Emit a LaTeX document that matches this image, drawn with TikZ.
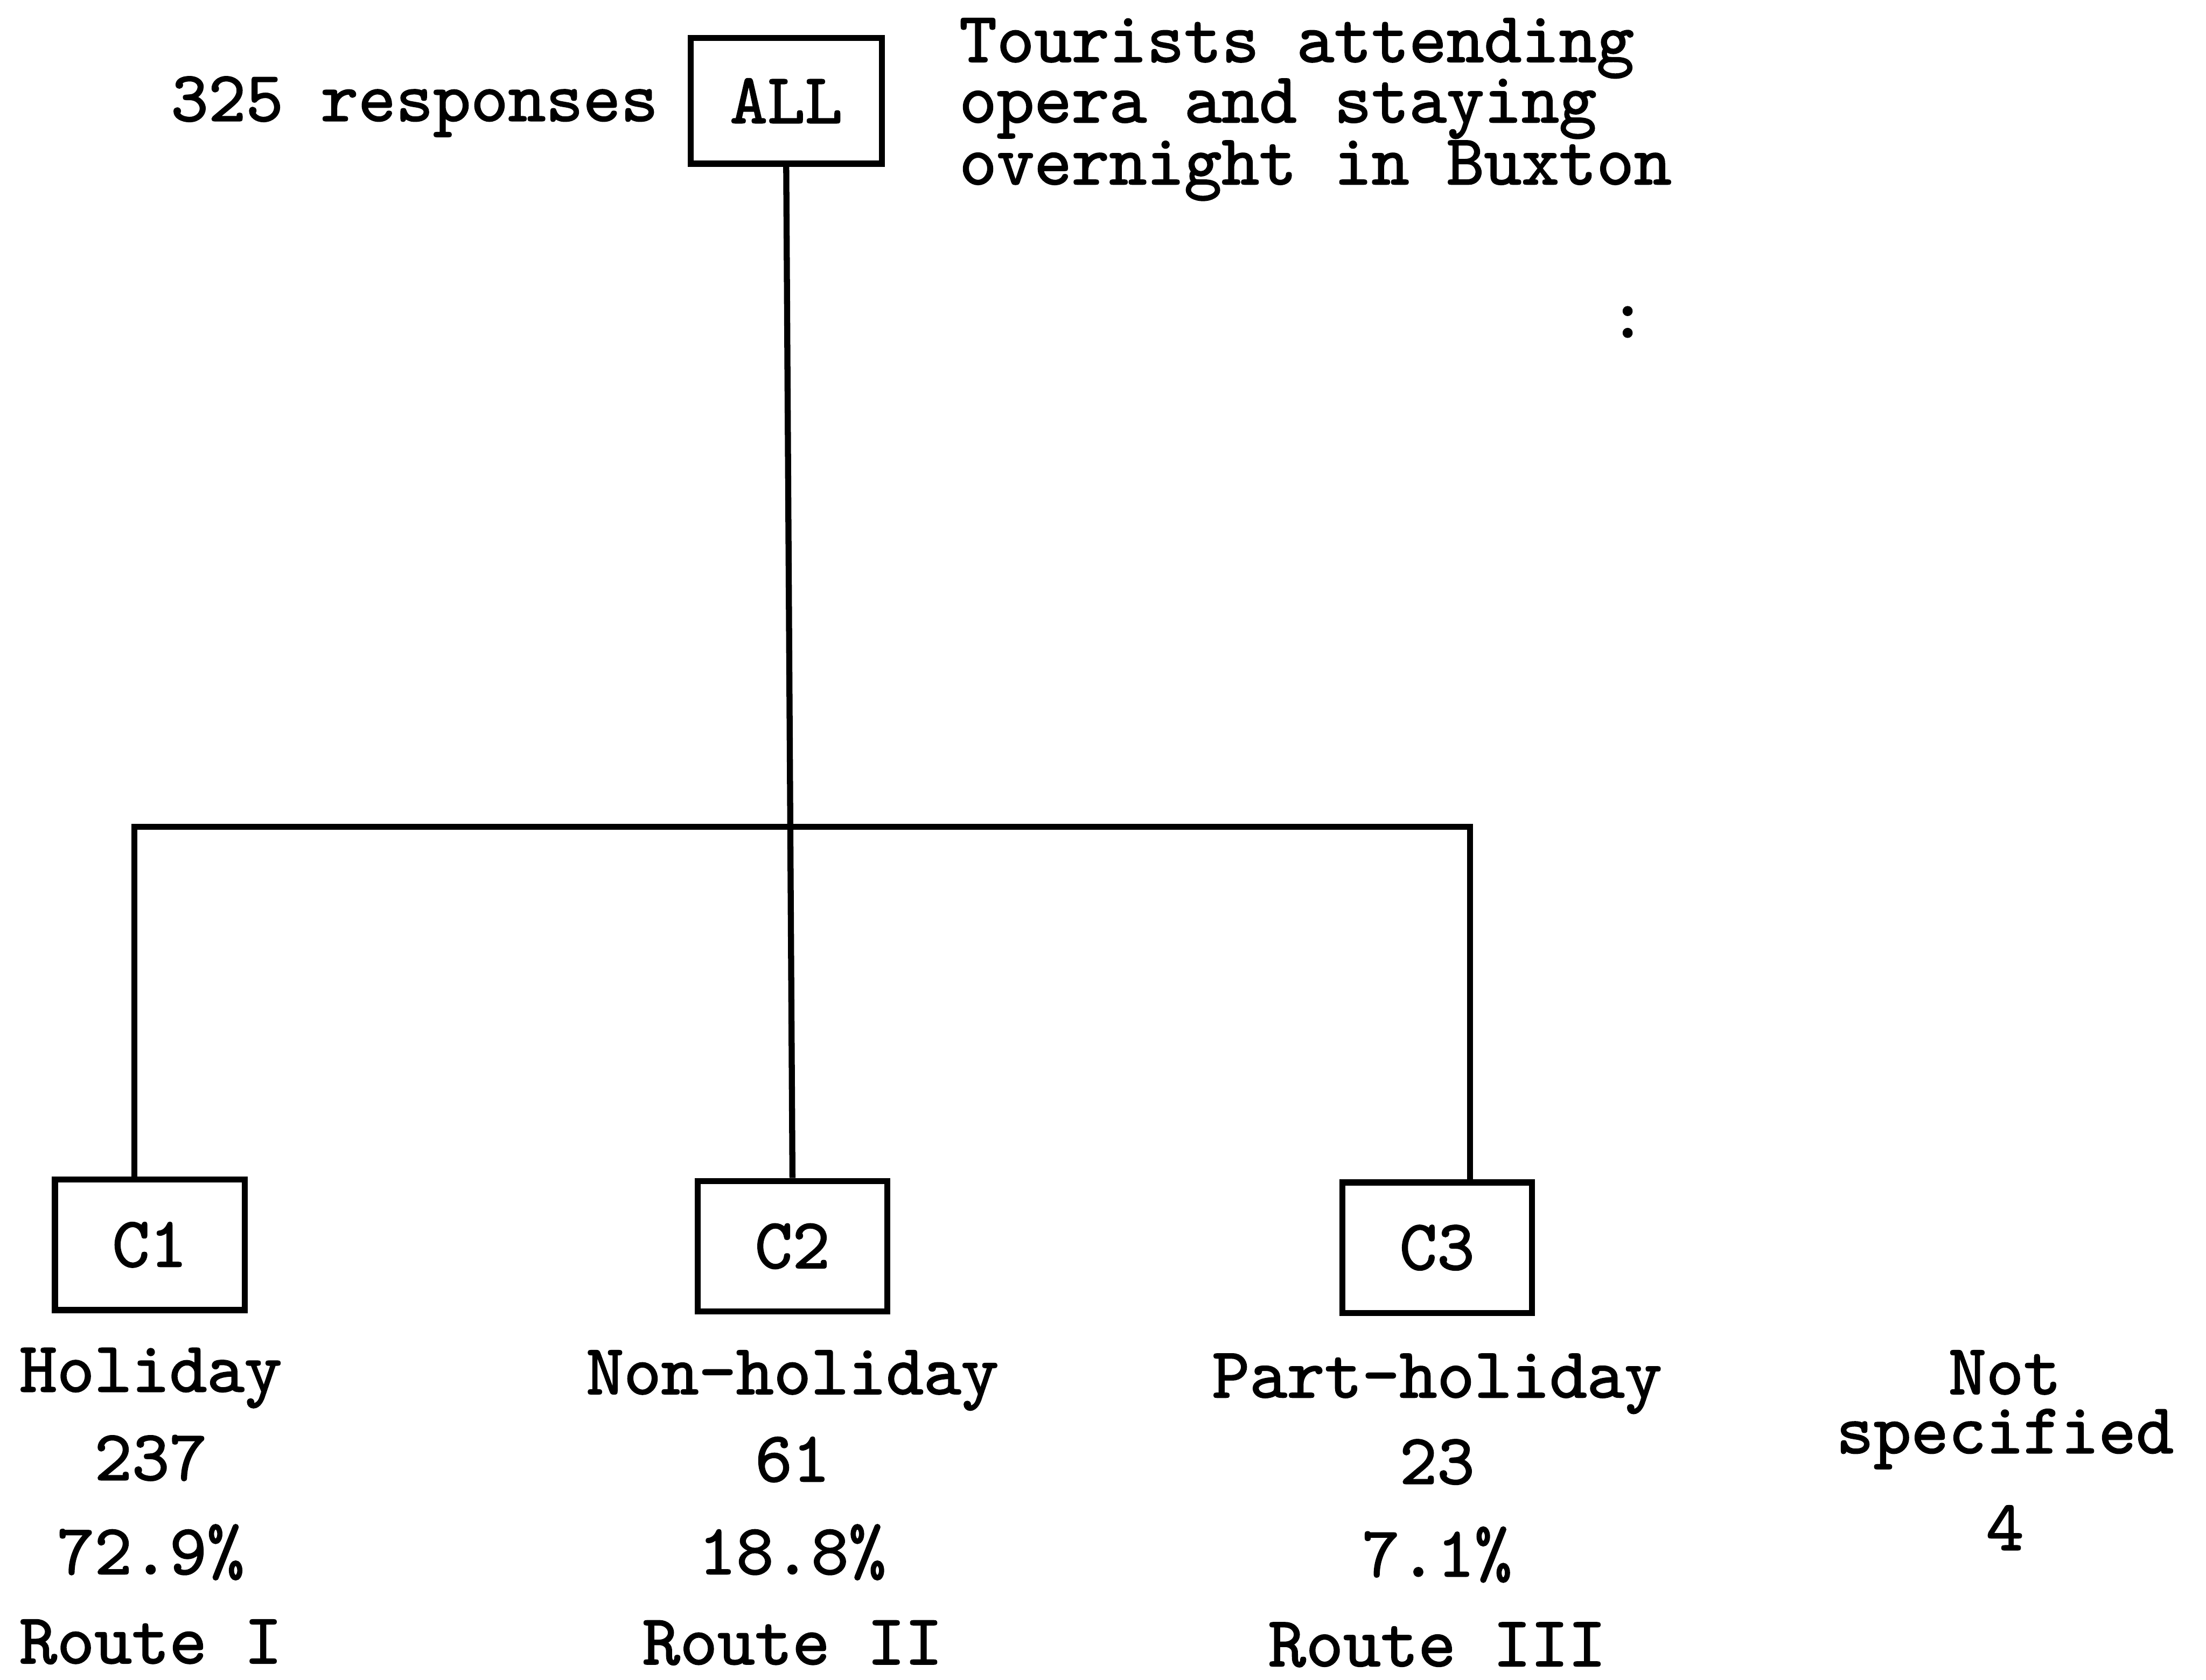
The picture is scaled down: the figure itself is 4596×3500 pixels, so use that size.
\documentclass[tikz,border=0pt]{standalone}
\usepackage{fontspec}
\newfontfamily\typewr{lmmono10-regular.otf}[FakeBold=1.6]
\begin{document}
\begin{tikzpicture}[x=0.01cm,y=-0.01cm,
  every node/.style={font=\typewr\fontsize{42.3pt}{50pt}\selectfont},
  catbox/.style={draw,line width=3.6pt,inner sep=0pt,minimum width=3.95cm,minimum height=2.72cm},
  label/.style={anchor=base,inner sep=0pt},
  link/.style={line width=3.6pt}]
\path[use as bounding box] (0,0) rectangle (4596,3500);

% root box and its notes
\node[catbox,minimum width=3.98cm,minimum height=2.62cm] (all) at (1638,210) {ALL};
\node[label,anchor=base east] (resp) at (1372,252) {325 responses};
\node[label,anchor=base west] (t1) at (1998,129) {Tourists attending};
\node[label,anchor=base west] (t2) at (1998,255) {opera and staying};
\node[label,anchor=base west] (t3) at (1998,384) {overnight in Buxton};
\node[label] (colon) at (3391,703) {:};

% category boxes
\node[catbox] (c1) at (312,2594) {C1};
\node[catbox] (c2) at (1651,2597) {C2};
\node[catbox] (c3) at (2994,2600) {C3};

% tree connectors
\coordinate (jl) at (280,1723);
\coordinate (jr) at (3063,1723);
\draw[link] (all.south) -- (c2.north);
\draw[link] (c1.north -| jl) -- (jl) -- (jr) -- (c3.north -| jr);

% labels under each category
\node[label] (h1) at (314,2900) {Holiday};
\node[label] (n1) at (314,3084) {237};
\node[label] (p1) at (314,3280) {72.9\%};
\node[label] (r1) at (314,3466) {Route I};

\node[label] (h2) at (1651,2905) {Non-holiday};
\node[label] (n2) at (1651,3087) {61};
\node[label] (p2) at (1651,3280) {18.8\%};
\node[label] (r2) at (1651,3468) {Route II};

\node[label] (h3) at (2994,2912) {Part-holiday};
\node[label] (n3) at (2994,3092) {23};
\node[label] (p3) at (2994,3285) {7.1\%};
\node[label] (r3) at (2994,3472) {Route III};

\node[label] (ns1) at (4177,2905) {Not};
\node[label] (ns2) at (4177,3028) {specified};
\node[label] (ns3) at (4177,3230) {4};
\end{tikzpicture}
\end{document}
